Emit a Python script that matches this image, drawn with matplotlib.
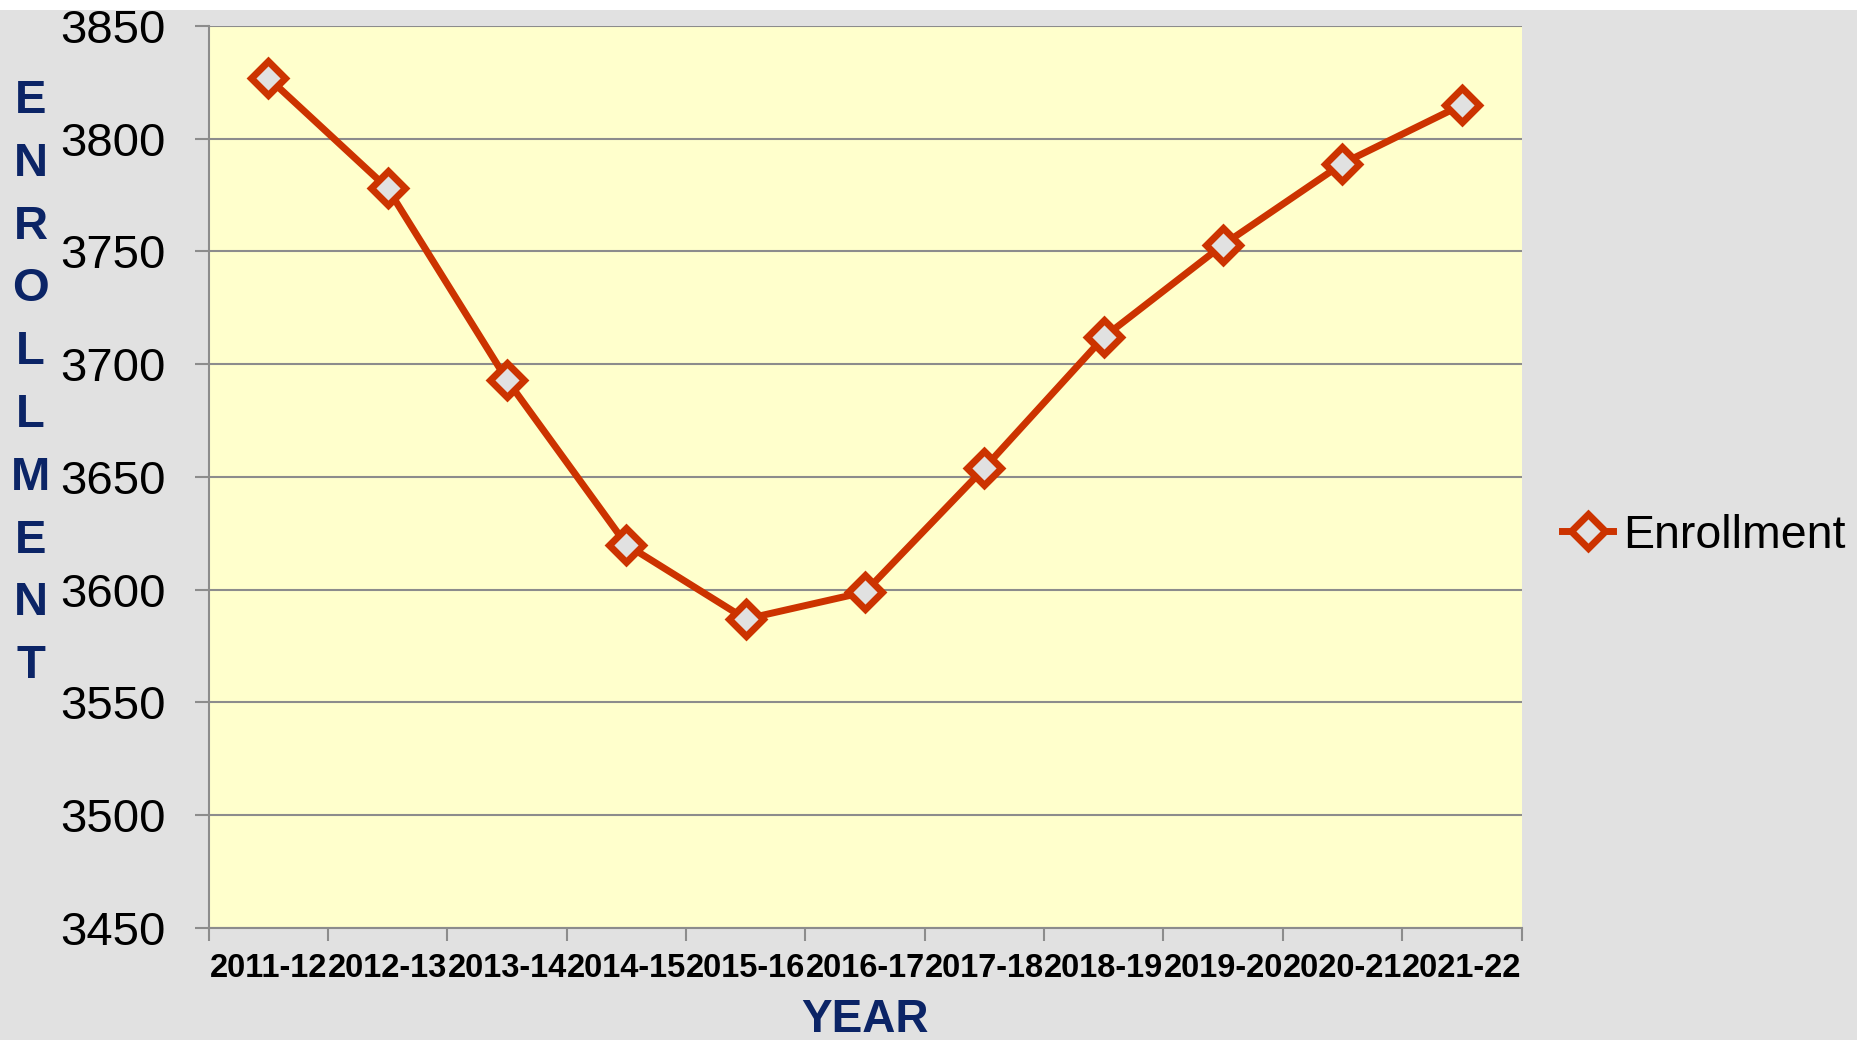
import matplotlib
matplotlib.use("Agg")
import matplotlib.pyplot as plt
from matplotlib.patches import Rectangle
import numpy as np

# data
years = ["2011-12", "2012-13", "2013-14", "2014-15", "2015-16", "2016-17",
         "2017-18", "2018-19", "2019-20", "2020-21", "2021-22"]
enrollment = [3827, 3778, 3693, 3620, 3587, 3599, 3654, 3712, 3753, 3789, 3815]
y_ticks = [3450, 3500, 3550, 3600, 3650, 3700, 3750, 3800, 3850]
y_label = "ENROLLMENT"
x_label = "YEAR"

line_col = "#cc3300"
navy = "#0b2466"
grid_col = "#8c8c8c"

plt.rcParams['font.family'] = ['Liberation Sans', 'DejaVu Sans']

fig = plt.figure(figsize=(18.58, 10.40), dpi=100)
fig.patch.set_facecolor("#e1e1e1")
# thin white strip along the top edge
fig.patches.append(Rectangle((0, 0.99), 1, 0.01, transform=fig.transFigure,
                             facecolor="white", edgecolor="none", zorder=0))

ax = fig.add_axes([0.1123, 0.1077, 0.7066, 0.8673])
ax.set_facecolor("#ffffcc")

x = np.arange(len(years))
ax.plot(x, enrollment, color=line_col, lw=5, marker="D", ms=17,
        mfc="#e1e1e1", mec=line_col, mew=5, label="Enrollment", zorder=3)

ax.set_xlim(-0.5, len(years) - 0.5)
ax.set_ylim(y_ticks[0], y_ticks[-1])
ax.set_yticks(y_ticks)
ax.set_yticklabels([str(v) for v in y_ticks], fontsize=34)
ax.yaxis.grid(True, color=grid_col, lw=1.5)
ax.set_axisbelow(True)

# category labels centred, tick marks on the boundaries
ax.set_xticks(x)
ax.set_xticklabels(years, fontsize=23.5, fontweight="bold")
ax.set_xticks(np.arange(len(years) + 1) - 0.5, minor=True)
ax.tick_params(axis="x", which="major", length=0, pad=18)
ax.tick_params(axis="x", which="minor", length=9, width=1.5, color=grid_col)
ax.tick_params(axis="y", length=10, width=1.5, color=grid_col, pad=21)

for side in ["top", "right"]:
    ax.spines[side].set_visible(False)
for side in ["left", "bottom"]:
    ax.spines[side].set_color(grid_col)
    ax.spines[side].set_linewidth(1.5)

# stacked y label letters
for i, ch in enumerate(y_label):
    fig.text(0.0165, 0.903 - i * 0.0604, ch, fontsize=34, fontweight="bold",
             color=navy, ha="center", va="center")

fig.text(0.4656, 0.019, x_label, fontsize=33, fontweight="bold",
         color=navy, ha="center", va="center")

leg = ax.legend(loc="center left", bbox_to_anchor=(1.031, 0.435), frameon=False,
                fontsize=33.5, handlelength=1.1, handletextpad=0.2,
                borderpad=0, borderaxespad=0)

fig.savefig("out.png", dpi=100, facecolor=fig.get_facecolor())
